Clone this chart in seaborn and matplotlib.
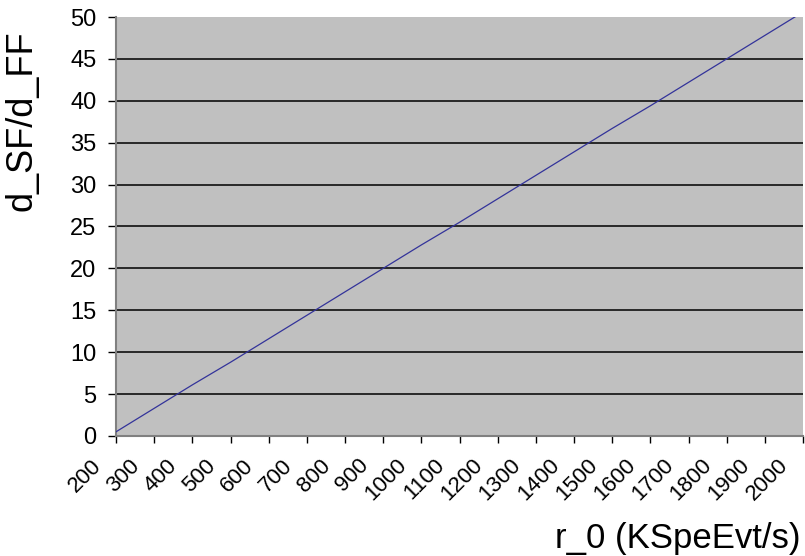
import matplotlib
matplotlib.use("Agg")
import matplotlib.pyplot as plt
from matplotlib.transforms import ScaledTranslation
import seaborn as sns
import pandas as pd

# Input rate r_0 (KSpeEvt/s) and the resulting ratio d_SF/d_FF
r0 = [200, 300, 400, 500, 600, 700, 800, 900, 1000, 1100,
      1200, 1300, 1400, 1500, 1600, 1700, 1800, 1900, 2000]
ratio = [0.5, 3.3, 6.1, 8.8, 11.6, 14.4, 17.2, 20.0, 22.8, 25.5,
         28.3, 31.1, 33.9, 36.7, 39.4, 42.2, 45.0, 47.8, 50.6]
y_ticks = [0, 5, 10, 15, 20, 25, 30, 35, 40, 45, 50]

df = pd.DataFrame({"r0": r0, "ratio": ratio})

sns.set_style("white")
plt.rcParams["font.family"] = ["Liberation Sans", "DejaVu Sans"]
plt.rcParams["text.color"] = "black"
plt.rcParams["axes.labelcolor"] = "black"
plt.rcParams["xtick.color"] = "black"
plt.rcParams["ytick.color"] = "black"

fig = plt.figure(figsize=(8.05, 5.56), dpi=100)
ax = fig.add_axes([116 / 805, 1 - 436 / 556, 687 / 805, 419 / 556])
ax.set_facecolor("#C0C0C0")

sns.lineplot(data=df, x="r0", y="ratio", ax=ax, color="#33339A",
             linewidth=0.9, zorder=3)

ax.set_xlim(r0[0], r0[-1])
ax.set_ylim(y_ticks[0], y_ticks[-1])
ax.set_xticks(r0)
ax.set_xticklabels([str(v) for v in r0], rotation=45, ha="right",
                   va="center", rotation_mode="anchor", fontsize=16)
ax.set_yticks(y_ticks)
ax.set_yticklabels([str(v) for v in y_ticks], fontsize=17)

# horizontal black gridlines
ax.grid(axis="y", color="black", linewidth=1.1)
ax.grid(axis="x", visible=False)
ax.set_axisbelow(True)
ax.yaxis.get_gridlines()[-1].set_visible(False)

for side in ("top", "right"):
    ax.spines[side].set_visible(False)
for side in ("left", "bottom"):
    ax.spines[side].set_color("#808080")
    ax.spines[side].set_linewidth(1.5)

ax.tick_params(axis="y", direction="out", length=6, width=1,
               colors="black", pad=8, left=True)
ax.tick_params(axis="x", direction="out", length=5, width=1,
               colors="black", pad=14, bottom=True)

shift = ScaledTranslation(-18 / 100, 0, fig.dpi_scale_trans)
for lab in ax.get_xticklabels():
    lab.set_transform(lab.get_transform() + shift)

ax.set_xlabel("r_0 (KSpeEvt/s)", fontsize=25, color="black")
ax.xaxis.label.set_ha("right")
ax.xaxis.label.set_va("center")
ax.xaxis.set_label_coords(0.996, -0.245)

ax.set_ylabel("d_SF/d_FF", fontsize=26, color="black")
ax.yaxis.label.set_va("center")
ax.yaxis.set_label_coords(-0.137, 0.752)

fig.savefig("out.png", dpi=100)
